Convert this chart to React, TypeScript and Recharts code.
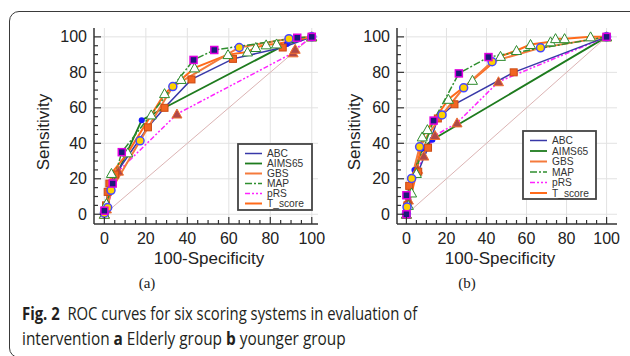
import React from 'react';
import { LineChart, Line, XAxis, YAxis, CartesianGrid } from 'recharts';

type Pt = { x: number; y: number };
const pts = (a: number[][]): Pt[] => a.map(([x, y]) => ({ x, y }));

// tick values (labels only on the majors)
const axisTicks = [0, 5, 10, 15, 20, 25, 30, 35, 40, 45, 50, 55, 60, 65, 70, 75, 80, 85, 90, 95, 100];
const majorTicks = [0, 20, 40, 60, 80, 100];

const chanceLine = [[0, 0], [100, 100]];

// (a) Elderly group  [100-Specificity, Sensitivity]
const abcA = [[0, 0], [0.8, 5], [1.6, 12.6], [2.4, 17.3], [5.2, 22.4], [21, 49], [29, 60], [42, 76], [62, 87.6], [86, 94], [100, 100]];
const aimsA = [[0, 0], [1, 6], [4, 17.3], [18, 53], [29, 60], [88, 96], [100, 100]];
const gbsA = [[0, 0.6], [1.6, 3.8], [3.2, 13.5], [17.2, 41.4], [33, 72], [65, 94], [89, 99], [100, 100]];
const mapA = [[0, 2], [4, 17.3], [8.4, 35], [43, 87], [53, 92.6], [93, 99.5], [100, 100]];
const prsA = [[0, 0], [1, 3], [6.8, 24.3], [35, 56.5], [91, 91], [92, 93], [100, 100]];
const tscoreA = [[0, 0], [1, 6], [3.4, 23], [11.3, 34.6], [22.6, 56], [29, 68], [37, 76], [43.5, 82.5], [59.6, 90], [69, 91.5], [73, 94], [78, 95.5], [83, 96], [100, 100]];

// (b) younger group
const abcB = [[0, 0], [0.5, 5], [1.4, 16], [5.9, 24], [10.8, 37.5], [15.7, 54], [24, 62], [53.6, 80], [100, 100]];
const aimsB = [[0, 0], [1, 8], [4, 25], [8, 37], [13, 42], [100, 100]];
const gbsB = [[0, 0.4], [0.3, 4.1], [2.6, 20.2], [6.6, 38], [17.8, 56], [28.6, 71.3], [42.8, 86], [67, 93.8], [100, 100]];
const mapB = [[0, 0], [0, 10.7], [13.6, 52.8], [26.2, 79.4], [41, 88.6], [100, 100]];
const prsB = [[0, 0], [1, 8], [5.6, 25.3], [8.7, 32.8], [14.3, 44.4], [25.3, 51.5], [46, 74.7], [100, 100]];
const tscoreB = [[0, 0], [1, 5], [2.6, 12], [5, 23], [7.9, 43.6], [10.5, 47.7], [21, 64.8], [33, 75.5], [47, 89], [55, 92.3], [62, 95.7], [72, 97.2], [74.5, 99], [79, 99], [92, 100], [100, 100]];

type Marker = 'sqOrange' | 'dotBlue' | 'circYellow' | 'sqNavy' | 'triBrown' | 'triOpen';

const styles: Record<string, { color: string; width: number; dash?: string; marker: Marker }> = {
  ABC: { color: '#3838a8', width: 1.5, marker: 'sqOrange' },
  AIMS65: { color: '#1e7b1e', width: 1.8, marker: 'dotBlue' },
  GBS: { color: '#f47a3c', width: 2, marker: 'circYellow' },
  MAP: { color: '#2f8f2f', width: 1.5, dash: '7 2 2 2', marker: 'sqNavy' },
  pRS: { color: '#ff22ff', width: 1.5, dash: '5 2 2 2 2 2', marker: 'triBrown' },
  T_score: { color: '#ff6a1a', width: 2, marker: 'triOpen' },
};
const legendOrder = ['ABC', 'AIMS65', 'GBS', 'MAP', 'pRS', 'T_score'];
const drawOrder = ['AIMS65', 'pRS', 'ABC', 'T_score', 'GBS', 'MAP'];

const drawMarker = (kind: Marker) => (p: any) => {
  const { cx, cy, index } = p;
  const k = `m-${index}`;
  if (cx == null || cy == null) return <g key={k} />;
  switch (kind) {
    case 'sqOrange':
      return <rect key={k} x={cx - 3.5} y={cy - 3.5} width={7} height={7} fill="#f26522" stroke="#cc4a12" strokeWidth={1} />;
    case 'sqNavy':
      return <rect key={k} x={cx - 3.5} y={cy - 3.5} width={7} height={7} fill="#1a1a7a" stroke="#e000e0" strokeWidth={1.5} />;
    case 'dotBlue':
      return <circle key={k} cx={cx} cy={cy} r={3} fill="#1a1aff" />;
    case 'circYellow':
      return <circle key={k} cx={cx} cy={cy} r={4} fill="#ffd200" stroke="#4646ff" strokeWidth={1.5} />;
    case 'triBrown':
      return <polygon key={k} points={`${cx},${cy - 5} ${cx - 5},${cy + 4} ${cx + 5},${cy + 4}`} fill="#b04848" stroke="#f07030" strokeWidth={1} />;
    case 'triOpen':
    default:
      return <polygon key={k} points={`${cx},${cy - 5} ${cx - 5},${cy + 4} ${cx + 5},${cy + 4}`} fill="#ffffff" stroke="#2e8b2e" strokeWidth={1} />;
  }
};

const sans = 'Liberation Sans, Arial, sans-serif';

const XTick = (p: any) => {
  const { x, y, payload } = p;
  const major = payload.value % 20 === 0;
  return (
    <g>
      <line x1={x} x2={x} y1={y} y2={y - (major ? 7 : 4)} stroke="#333" strokeWidth={1.2} />
      {major && (
        <text x={x} y={y + 20} textAnchor="middle" fontSize={16} fill="#222" fontFamily={sans}>
          {payload.value}
        </text>
      )}
    </g>
  );
};

const YTick = (p: any) => {
  const { x, y, payload } = p;
  const major = payload.value % 20 === 0;
  return (
    <g>
      <line x1={x} x2={x + (major ? 7 : 4)} y1={y} y2={y} stroke="#333" strokeWidth={1.2} />
      {major && (
        <text x={x - 7} y={y + 5.5} textAnchor="end" fontSize={16} fill="#222" fontFamily={sans}>
          {payload.value}
        </text>
      )}
    </g>
  );
};

const gridGen = (axis: 'x' | 'y', domain: number[]) => (props: any) => {
  const s = axis === 'x' ? props?.xAxis?.scale : props?.yAxis?.scale;
  if (typeof s === 'function') return majorTicks.map((v) => s(v));
  const o = props.offset;
  if (axis === 'x') return majorTicks.map((v) => o.left + ((v - domain[0]) / (domain[1] - domain[0])) * o.width);
  return majorTicks.map((v) => o.top + ((domain[1] - v) / (domain[1] - domain[0])) * o.height);
};

type PanelProps = {
  left: number;
  width: number;
  margin: { top: number; left: number; right: number; bottom: number };
  xDomain: number[];
  series: Record<string, number[][]>;
};

const yDomain = [-5.5, 105];

function RocPanel({ left, width, margin, xDomain, series }: PanelProps) {
  return (
    <div style={{ position: 'absolute', left, top: 0 }}>
      <LineChart width={width} height={300} margin={margin}>
        <CartesianGrid
          stroke="#e2e2e2"
          strokeWidth={1}
          verticalCoordinatesGenerator={gridGen('x', xDomain)}
          horizontalCoordinatesGenerator={gridGen('y', yDomain)}
        />
        <XAxis
          type="number"
          dataKey="x"
          domain={xDomain}
          allowDataOverflow
          ticks={axisTicks}
          interval={0}
          height={40}
          tickSize={0}
          tickMargin={0}
          tickLine={false}
          axisLine={{ stroke: '#333', strokeWidth: 1.5 }}
          tick={XTick}
        />
        <YAxis
          type="number"
          domain={yDomain}
          allowDataOverflow
          ticks={axisTicks}
          interval={0}
          width={60}
          tickSize={0}
          tickMargin={0}
          tickLine={false}
          axisLine={{ stroke: '#333', strokeWidth: 1.5 }}
          tick={YTick}
        />
        <Line
          data={pts(chanceLine)}
          dataKey="y"
          stroke="#dcb4b4"
          strokeWidth={1}
          dot={false}
          activeDot={false}
          isAnimationActive={false}
        />
        {drawOrder.map((name) => {
          const st = styles[name];
          return (
            <Line
              key={name}
              name={name}
              data={pts(series[name])}
              dataKey="y"
              stroke={st.color}
              strokeWidth={st.width}
              strokeDasharray={st.dash}
              dot={drawMarker(st.marker)}
              activeDot={false}
              isAnimationActive={false}
            />
          );
        })}
      </LineChart>
    </div>
  );
}

function LegendBox({ x, y, w, h, gap }: { x: number; y: number; w: number; h: number; gap: number }) {
  return (
    <g>
      <rect x={x} y={y} width={w} height={h} fill="#fff" stroke="#444" strokeWidth={1.8} />
      {legendOrder.map((name, i) => {
        const st = styles[name];
        const cy = y + 9.5 + i * gap;
        return (
          <g key={name}>
            <line x1={x + 7} x2={x + 24} y1={cy} y2={cy} stroke={st.color} strokeWidth={st.width} strokeDasharray={st.dash} />
            <text x={x + 29} y={cy + 3.6} fontSize={10.2} fill="#333" fontFamily={sans}>
              {name}
            </text>
          </g>
        );
      })}
    </g>
  );
}

const captionStyle: React.CSSProperties = {
  position: 'absolute',
  left: 22,
  fontFamily: '"Open Sans", sans-serif',
  fontSize: 18,
  lineHeight: '22px',
  color: '#231f20',
  whiteSpace: 'nowrap',
  transformOrigin: 'left center',
};

export default function App() {
  return (
    <div style={{ position: 'absolute', left: 0, top: 0, width: 630, height: 356, overflow: 'hidden', background: '#fff' }}>
      <div
        style={{
          position: 'absolute',
          left: 9,
          top: 11,
          width: 640,
          height: 345,
          border: '1.5px solid #3a3a3a',
          borderRadius: 10,
        }}
      />
      <RocPanel
        left={0}
        width={330}
        margin={{ top: 28, left: 34, right: 12, bottom: 36 }}
        xDomain={[-5, 103]}
        series={{ ABC: abcA, AIMS65: aimsA, GBS: gbsA, MAP: mapA, pRS: prsA, T_score: tscoreA }}
      />
      <RocPanel
        left={310}
        width={320}
        margin={{ top: 28, left: 27, right: 13, bottom: 36 }}
        xDomain={[-4.7, 105.2]}
        series={{ ABC: abcB, AIMS65: aimsB, GBS: gbsB, MAP: mapB, pRS: prsB, T_score: tscoreB }}
      />
      <svg width={630} height={300} style={{ position: 'absolute', left: 0, top: 0 }}>
        <LegendBox x={238} y={144} w={74} h={66} gap={10} />
        <LegendBox x={523} y={131} w={73} h={68} gap={10.5} />
        <text x={43} y={132} transform="rotate(-90 43 132)" dy={6} textAnchor="middle" fontSize={17} fill="#222" fontFamily={sans}>
          Sensitivity
        </text>
        <text x={354} y={132} transform="rotate(-90 354 132)" dy={6} textAnchor="middle" fontSize={17} fill="#222" fontFamily={sans}>
          Sensitivity
        </text>
        <text x={209} y={264} textAnchor="middle" fontSize={17} fill="#222" fontFamily={sans}>
          100-Specificity
        </text>
        <text x={500} y={264} textAnchor="middle" fontSize={17} fill="#222" fontFamily={sans}>
          100-Specificity
        </text>
        <text x={147} y={288} textAnchor="middle" fontSize={15} fill="#222" fontFamily="Liberation Serif, Times New Roman, serif">
          (a)
        </text>
        <text x={467} y={288} textAnchor="middle" fontSize={15} fill="#222" fontFamily="Liberation Serif, Times New Roman, serif">
          (b)
        </text>
      </svg>
      <div style={{ ...captionStyle, top: 302, transform: 'scaleX(0.825)' }}>
        <b>Fig. 2</b>&nbsp; ROC curves for six scoring systems in evaluation of
      </div>
      <div style={{ ...captionStyle, top: 327, transform: 'scaleX(0.855)' }}>
        intervention <b>a</b> Elderly group <b>b</b> younger group
      </div>
    </div>
  );
}
